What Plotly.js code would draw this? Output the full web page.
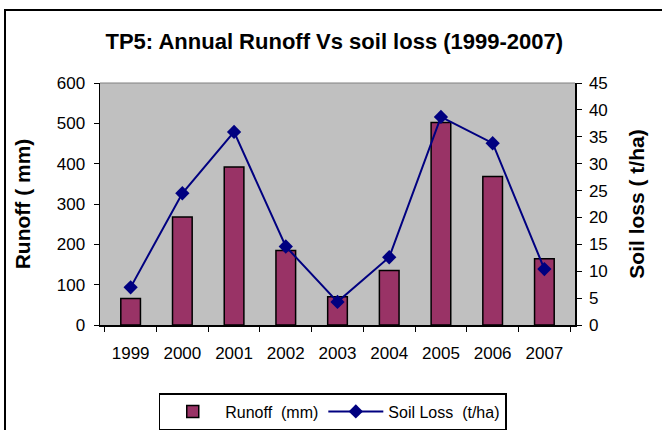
<!DOCTYPE html>
<html>
<head>
<meta charset="utf-8">
<script src="https://cdn.plot.ly/plotly-3.0.1.min.js"></script>
<style>
html,body{margin:0;padding:0;background:#fff;}
#wrap{position:relative;width:662px;height:430px;overflow:hidden;}
#chart{position:absolute;left:0;top:0;width:662px;height:430px;}
#frame{position:absolute;left:4px;top:9px;width:700px;height:500px;border-top:2px solid #000;border-left:2px solid #000;pointer-events:none;}
</style>
</head>
<body>
<div id="wrap"><div id="chart"></div><div id="frame"></div></div>
<script>
const years = ["1999","2000","2001","2002","2003","2004","2005","2006","2007"];
const runoff = [66, 268, 392, 185, 70, 135, 502, 368, 164];
const soilLoss = [7.0, 24.5, 35.9, 14.6, 4.3, 12.6, 38.7, 33.8, 10.4];
const runoffTicks = [0,100,200,300,400,500,600];
const soilTicks = [0,5,10,15,20,25,30,35,40,45];

const font = "Arial, 'Liberation Sans', sans-serif";

const traces = [
  {
    type: "bar", x: years, y: runoff, name: "Runoff  (mm)",
    marker: {color: "#993366", line: {color: "#000", width: 1.5}},
    yaxis: "y"
  },
  {
    type: "scatter", mode: "lines+markers", x: years, y: soilLoss, name: "Soil Loss  (t/ha)",
    line: {color: "#000080", width: 2},
    marker: {symbol: "diamond", size: 11, color: "#000080"},
    yaxis: "y2"
  }
];

const layout = {
  width: 662, height: 430,
  paper_bgcolor: "#fff",
  plot_bgcolor: "#c0c0c0",
  margin: {l: 100, r: 87, t: 83, b: 105},
  font: {family: font, color: "#000", size: 17},
  title: {text: "<b>TP5: Annual Runoff Vs soil loss (1999-2007)</b>", font: {size: 22, family: font, color: "#000"}, x: 0.505, xanchor: "center", y: 0.905, yanchor: "middle"},
  bargap: 0.62,
  showlegend: true,
  legend: {orientation: "h", x: 0.49, xanchor: "center", yref: "container", y: 0.086, yanchor: "top",
    bordercolor: "#000", borderwidth: 1.5, bgcolor: "#fff", font: {size: 16, family: font}, itemwidth: 55},
  xaxis: {
    type: "category", tickson: "boundaries", ticks: "outside", ticklen: 5, tickcolor: "#000",
    showline: true, linecolor: "#000", linewidth: 1.5, tickfont: {size: 17},
    ticklabelstandoff: 12,
    showgrid: false, zeroline: false
  },
  yaxis: {
    title: {text: "<b>Runoff ( mm)</b>", font: {size: 21}, standoff: 20},
    range: [0, 600], tickvals: runoffTicks, ticks: "outside", ticklen: 5, tickcolor: "#000",
    showline: true, linecolor: "#000", linewidth: 1.5, showgrid: false, zeroline: false,
    tickfont: {size: 17}, ticklabelstandoff: 5
  },
  yaxis2: {
    title: {text: "<b>Soil loss ( t/ha)</b>", font: {size: 21}, standoff: 22},
    overlaying: "y", side: "right",
    range: [0, 45], tickvals: soilTicks, ticks: "outside", ticklen: 5, tickcolor: "#000",
    showline: true, linecolor: "#000", linewidth: 1.5, showgrid: false, zeroline: false,
    tickfont: {size: 17}, ticklabelstandoff: 4
  },
  yaxis3: {
    overlaying: "y", side: "right", anchor: "x",
    range: [0, 45], tickvals: soilTicks, ticks: "inside", ticklen: 5, tickcolor: "#000",
    showticklabels: false, showline: false, showgrid: false, zeroline: false
  },
  shapes: [
    {type: "line", xref: "paper", yref: "paper", x0: 0, x1: 1, y0: 1, y1: 1, line: {color: "#808080", width: 1}}
  ]
};

Plotly.newPlot("chart", traces, layout, {displayModeBar: false, staticPlot: true});
</script>
</body>
</html>
